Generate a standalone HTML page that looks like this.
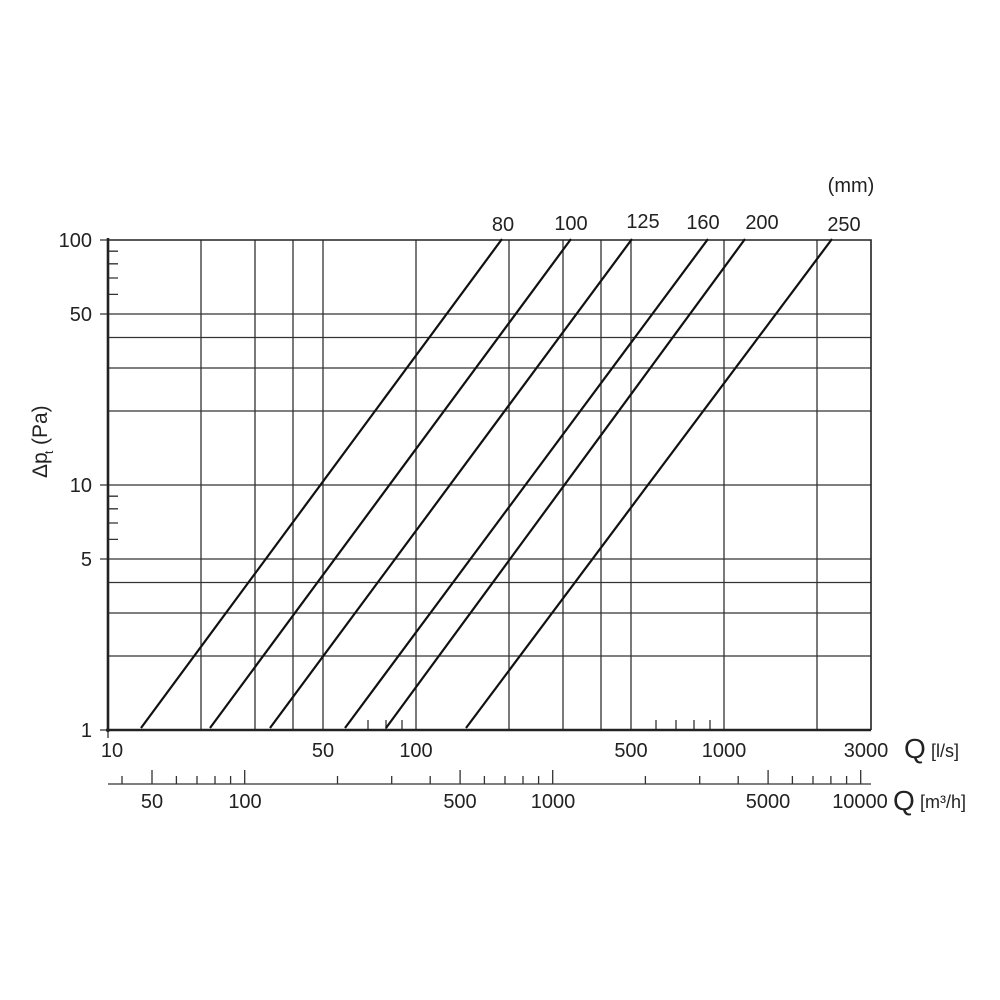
<!DOCTYPE html>
<html><head><style>body{margin:0;background:#fff}svg{display:block}text{font-family:"Liberation Sans",sans-serif;fill:#222}</style></head>
<body>
<svg width="1000" height="1000" viewBox="0 0 1000 1000">
<g stroke="#333" stroke-width="1.3" fill="none">
<path d="M201 240V730M255 240V730M293 240V730M323 240V730M416 240V730M509 240V730M563 240V730M601 240V730M631 240V730M724 240V730M817 240V730"/>
<path d="M108 656H871M108 613H871M108 582.5H871M108 559H871M108 485H871M108 411H871M108 368H871M108 337.5H871M108 314H871"/>
<path d="M108 539.4H118M108 523H118M108 508.8H118M108 496.2H118M108 294.4H118M108 278H118M108 263.8H118M108 251.2H118"/>
<path d="M368 730V720M386 730V720M402 730V720M656 730V720M676 730V720M694 730V720M710 730V720"/>
<path d="M100 240H108M100 314H108M100 485H108M100 559H108M100 730H108M108 730V738"/>
</g>
<path d="M108 240H871V730" stroke="#222" stroke-width="1.6" fill="none"/>
<path d="M108 238V732M106 730H871" stroke="#222" stroke-width="2.6" fill="none"/>
<g stroke="#111" stroke-width="2.2">
<line x1="141" y1="728" x2="502" y2="239"/>
<line x1="210" y1="728" x2="571" y2="239"/>
<line x1="270" y1="728" x2="632" y2="239"/>
<line x1="345" y1="728" x2="708" y2="239"/>
<line x1="386" y1="728" x2="745" y2="239"/>
<line x1="466" y1="728" x2="832" y2="239"/>
</g>
<g stroke="#333" stroke-width="1.3">
<line x1="108" y1="784" x2="871" y2="784"/>
<path d="M122 784V776M152 784V770M176.4 784V776M197 784V776M215 784V776M230.6 784V776M244.7 784V770M337.5 784V776M391.7 784V776M430.2 784V776M460.1 784V770M484.4 784V776M505 784V776M523 784V776M538.6 784V776M552.7 784V770M645.4 784V776M699.7 784V776M738.2 784V776M768.1 784V770M792.4 784V776M813 784V776M830.9 784V776M846.6 784V776M860.7 784V770"/>
</g>
<g font-size="20" text-anchor="end">
<text x="92" y="247">100</text><text x="92" y="321">50</text><text x="92" y="492">10</text><text x="92" y="566">5</text><text x="92" y="737">1</text>
</g>
<g font-size="20" text-anchor="middle">
<text x="112" y="757">10</text><text x="323" y="757">50</text><text x="416" y="757">100</text><text x="631" y="757">500</text><text x="724" y="757">1000</text><text x="866" y="757">3000</text>
<text x="152" y="808">50</text><text x="245" y="808">100</text><text x="460" y="808">500</text><text x="553" y="808">1000</text><text x="768" y="808">5000</text><text x="860" y="808">10000</text>
<text x="503" y="231">80</text><text x="571" y="230">100</text><text x="643" y="228">125</text><text x="703" y="229">160</text><text x="762" y="229">200</text><text x="844" y="231">250</text>
<text x="851" y="192">(mm)</text>
</g>
<text x="904" y="758" font-size="28">Q</text><text x="931" y="757" font-size="18">[l/s]</text>
<text x="893" y="810" font-size="28">Q</text><text x="920" y="808" font-size="18">[m³/h]</text>
<g transform="translate(47,478) rotate(-90)" font-size="21"><text x="0" y="0">Δp</text><text x="24" y="6" font-size="12">t</text><text x="33" y="0">(Pa)</text></g>
</svg>
</body></html>
